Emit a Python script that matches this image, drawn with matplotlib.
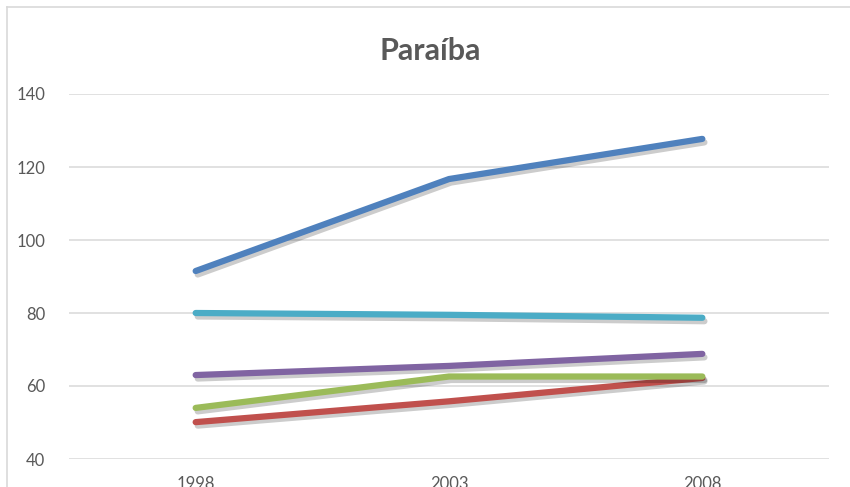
import matplotlib
matplotlib.use("Agg")
import matplotlib.pyplot as plt
import matplotlib.patheffects as pe
from matplotlib.lines import Line2D

years = ["1998", "2003", "2008"]
series_blue = [91.5, 116.7, 127.7]
series_aqua = [80.0, 79.5, 78.7]
series_purple = [63.0, 65.5, 68.8]
series_green = [54.0, 62.6, 62.6]
series_red = [50.1, 55.8, 62.2]
y_ticks = [40, 60, 80, 100, 120, 140]

colors = {
    "blue": "#4F81BD",
    "red": "#C0504D",
    "green": "#9BBB59",
    "purple": "#8064A2",
    "aqua": "#4BACC6",
}

plt.rcParams['font.family'] = ['Lato', 'DejaVu Sans']

W, H = 850, 487
fig = plt.figure(figsize=(W / 100, H / 100), dpi=100)
fig.patch.set_facecolor("white")

left, right, top, bottom = 69, 829, 94, 459
ax = fig.add_axes([left / W, (H - bottom) / H, (right - left) / W, (bottom - top) / H])

x = [0.5, 1.5, 2.5]
shadow = [pe.SimpleLineShadow(offset=(1.5, -2.5), shadow_color="#000000", alpha=0.2), pe.Normal()]
for vals, key in [(series_blue, "blue"), (series_red, "red"), (series_green, "green"),
                  (series_purple, "purple"), (series_aqua, "aqua")]:
    ax.plot(x, vals, color=colors[key], lw=4.5, solid_capstyle="round",
            solid_joinstyle="round", path_effects=shadow, zorder=3)

ax.set_xlim(0, 3)
ax.set_ylim(40, 140)
ax.set_yticks(y_ticks)
ax.set_xticks(x)
ax.set_xticklabels(years)
ax.grid(axis="y", color="#D9D9D9", lw=1.1)
ax.set_axisbelow(True)
for s in ax.spines.values():
    s.set_visible(False)
ax.tick_params(axis="both", length=0, labelsize=12, labelcolor="#595959")
ax.tick_params(axis="y", pad=17)
ax.tick_params(axis="x", pad=12)

fig.text(430 / W, (H - 60) / H, "Paraíba", ha="center", va="baseline",
         fontsize=22, fontweight="bold", color="#595959")

# chart area border (top and left visible)
fig.add_artist(Line2D([7 / W, 1.0], [(H - 7) / H, (H - 7) / H], color="#D9D9D9", lw=1.2,
                      transform=fig.transFigure))
fig.add_artist(Line2D([7 / W, 7 / W], [(H - 7) / H, 0], color="#D9D9D9", lw=1.2,
                      transform=fig.transFigure))

fig.savefig("out.png", dpi=100, facecolor="white")
